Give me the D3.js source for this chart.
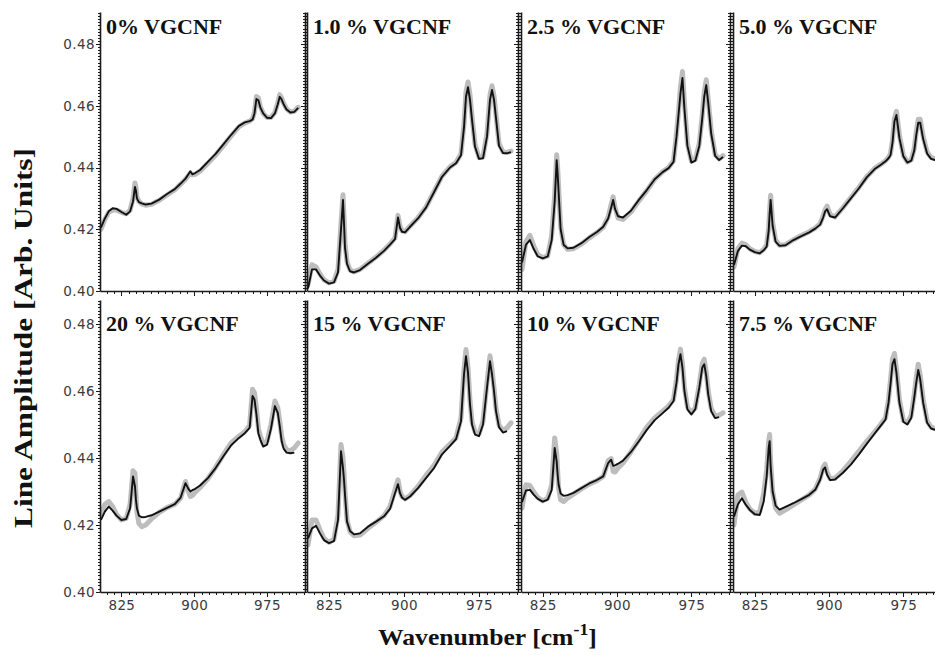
<!DOCTYPE html>
<html><head><meta charset="utf-8">
<script src="https://cdn.jsdelivr.net/npm/d3@7"></script>
<style>body{margin:0;background:#fff}</style>
</head><body>
<svg id="c" width="935" height="655"></svg>
<script>
// ---------- data ----------
const wavenumbers = [804,808,812,816,820,825,830,834,837,839,840,841,843,846,850,856,864,872,880,886,891,894,896,898,901,906,914,922,930,938,946,952,957,960,962,964,966,968,971,975,979,983,986,988,990,992,995,999,1003,1007];

const panelLabels = ["0% VGCNF","1.0 % VGCNF","2.5 % VGCNF","5.0 % VGCNF","20 % VGCNF","15 % VGCNF","10 % VGCNF","7.5 % VGCNF"];

const amp0 = [0.4205,0.4235,0.4258,0.4268,0.4266,0.4256,0.4247,0.4258,0.4290,0.4337,0.4325,0.4300,0.4288,0.4284,0.4280,0.4283,0.4296,0.4314,0.4330,0.4348,0.4364,0.4378,0.4388,0.4378,0.4382,0.4392,0.4418,0.4444,0.4475,0.4506,0.4535,0.4546,0.4550,0.4555,0.4575,0.4622,0.4618,0.4595,0.4575,0.4561,0.4560,0.4575,0.4605,0.4629,0.4620,0.4605,0.4588,0.4578,0.4580,0.4593];
const fit0 = [0.4200,0.4232,0.4255,0.4262,0.4262,0.4255,0.4250,0.4262,0.4300,0.4350,0.4335,0.4305,0.4290,0.4282,0.4278,0.4281,0.4294,0.4311,0.4328,0.4346,0.4362,0.4374,0.4382,0.4376,0.4378,0.4388,0.4414,0.4440,0.4471,0.4502,0.4532,0.4544,0.4550,0.4558,0.4580,0.4630,0.4625,0.4598,0.4575,0.4562,0.4562,0.4578,0.4610,0.4636,0.4625,0.4608,0.4590,0.4580,0.4582,0.4595];

const amp10 = [0.4008,0.4070,0.4070,0.4050,0.4034,0.4024,0.4028,0.4060,0.4200,0.4295,0.4220,0.4140,0.4088,0.4064,0.4060,0.4068,0.4088,0.4108,0.4130,0.4150,0.4168,0.4238,0.4205,0.4192,0.4190,0.4208,0.4235,0.4270,0.4320,0.4370,0.4400,0.4414,0.4440,0.4530,0.4630,0.4660,0.4620,0.4555,0.4467,0.4428,0.4430,0.4500,0.4620,0.4651,0.4620,0.4560,0.4470,0.4447,0.4446,0.4450];
const fit10 = [0.4020,0.4085,0.4078,0.4055,0.4036,0.4026,0.4032,0.4070,0.4220,0.4312,0.4240,0.4155,0.4095,0.4068,0.4062,0.4070,0.4090,0.4110,0.4132,0.4152,0.4172,0.4245,0.4210,0.4195,0.4192,0.4210,0.4237,0.4272,0.4322,0.4372,0.4402,0.4416,0.4445,0.4540,0.4645,0.4677,0.4635,0.4565,0.4475,0.4432,0.4435,0.4510,0.4635,0.4665,0.4632,0.4570,0.4478,0.4450,0.4449,0.4453];

const amp25 = [0.4092,0.4150,0.4165,0.4135,0.4112,0.4106,0.4112,0.4165,0.4290,0.4424,0.4380,0.4320,0.4200,0.4150,0.4138,0.4140,0.4155,0.4175,0.4192,0.4208,0.4235,0.4270,0.4295,0.4265,0.4242,0.4238,0.4260,0.4295,0.4327,0.4362,0.4385,0.4398,0.4418,0.4500,0.4570,0.4640,0.4690,0.4590,0.4470,0.4416,0.4422,0.4470,0.4560,0.4630,0.4667,0.4610,0.4510,0.4438,0.4424,0.4434];
const fit25 = [0.4070,0.4160,0.4180,0.4145,0.4118,0.4108,0.4114,0.4180,0.4310,0.4441,0.4400,0.4335,0.4210,0.4150,0.4135,0.4137,0.4152,0.4172,0.4190,0.4206,0.4240,0.4280,0.4305,0.4270,0.4236,0.4232,0.4256,0.4292,0.4325,0.4362,0.4386,0.4400,0.4422,0.4510,0.4580,0.4660,0.4711,0.4610,0.4478,0.4420,0.4426,0.4478,0.4570,0.4645,0.4684,0.4620,0.4520,0.4442,0.4428,0.4438];

const amp50 = [0.4084,0.4130,0.4147,0.4145,0.4134,0.4126,0.4122,0.4132,0.4144,0.4195,0.4250,0.4295,0.4212,0.4160,0.4146,0.4148,0.4165,0.4178,0.4190,0.4202,0.4215,0.4238,0.4258,0.4265,0.4242,0.4238,0.4268,0.4300,0.4332,0.4368,0.4395,0.4408,0.4420,0.4430,0.4440,0.4480,0.4550,0.4570,0.4495,0.4436,0.4416,0.4422,0.4455,0.4505,0.4545,0.4545,0.4492,0.4445,0.4428,0.4424];
const fit50 = [0.4078,0.4138,0.4155,0.4150,0.4137,0.4128,0.4124,0.4135,0.4150,0.4205,0.4262,0.4310,0.4222,0.4165,0.4148,0.4150,0.4166,0.4180,0.4192,0.4204,0.4218,0.4244,0.4264,0.4275,0.4248,0.4240,0.4270,0.4303,0.4335,0.4370,0.4397,0.4410,0.4422,0.4433,0.4445,0.4488,0.4560,0.4582,0.4505,0.4440,0.4418,0.4425,0.4462,0.4515,0.4556,0.4556,0.4500,0.4450,0.4432,0.4428];

const amp200 = [0.4215,0.4240,0.4255,0.4243,0.4228,0.4215,0.4218,0.4250,0.4345,0.4315,0.4275,0.4250,0.4228,0.4223,0.4224,0.4229,0.4240,0.4251,0.4262,0.4282,0.4325,0.4308,0.4300,0.4304,0.4308,0.4318,0.4340,0.4370,0.4405,0.4438,0.4460,0.4474,0.4490,0.4585,0.4575,0.4530,0.4474,0.4455,0.4434,0.4440,0.4488,0.4555,0.4535,0.4495,0.4450,0.4428,0.4416,0.4414,0.4416,null];
const fit200 = [0.4232,0.4262,0.4270,0.4255,0.4232,0.4215,0.4220,0.4262,0.4362,0.4355,0.4290,0.4240,0.4205,0.4195,0.4200,0.4218,0.4238,0.4252,0.4262,0.4280,0.4330,0.4300,0.4285,0.4288,0.4298,0.4312,0.4338,0.4372,0.4410,0.4445,0.4465,0.4478,0.4498,0.4605,0.4595,0.4548,0.4488,0.4466,0.4442,0.4450,0.4500,0.4570,0.4550,0.4510,0.4465,0.4440,0.4425,0.4422,0.4430,0.4445];

const amp150 = [0.4160,0.4190,0.4198,0.4175,0.4155,0.4146,0.4152,0.4215,0.4420,0.4370,0.4335,0.4290,0.4210,0.4182,0.4172,0.4175,0.4195,0.4210,0.4226,0.4248,0.4295,0.4322,0.4295,0.4282,0.4275,0.4285,0.4310,0.4340,0.4370,0.4411,0.4436,0.4456,0.4510,0.4650,0.4704,0.4655,0.4560,0.4500,0.4470,0.4465,0.4500,0.4610,0.4689,0.4650,0.4600,0.4540,0.4492,0.4476,0.4480,null];
const fit150 = [0.4140,0.4215,0.4215,0.4185,0.4160,0.4148,0.4158,0.4230,0.4440,0.4400,0.4355,0.4300,0.4215,0.4180,0.4168,0.4170,0.4190,0.4208,0.4228,0.4255,0.4305,0.4335,0.4300,0.4285,0.4278,0.4288,0.4315,0.4348,0.4378,0.4418,0.4442,0.4460,0.4520,0.4665,0.4724,0.4670,0.4570,0.4508,0.4478,0.4472,0.4510,0.4625,0.4705,0.4665,0.4610,0.4548,0.4498,0.4482,0.4490,0.4505];

const amp100 = [0.4268,0.4303,0.4305,0.4290,0.4278,0.4270,0.4276,0.4305,0.4430,0.4390,0.4350,0.4320,0.4294,0.4287,0.4289,0.4296,0.4310,0.4324,0.4335,0.4345,0.4385,0.4395,0.4377,0.4378,0.4383,0.4392,0.4418,0.4450,0.4484,0.4513,0.4534,0.4550,0.4570,0.4625,0.4680,0.4710,0.4670,0.4600,0.4545,0.4530,0.4546,0.4610,0.4670,0.4680,0.4645,0.4590,0.4540,0.4519,0.4522,null];
const fit100 = [0.4250,0.4320,0.4318,0.4298,0.4282,0.4272,0.4280,0.4320,0.4460,0.4415,0.4360,0.4310,0.4275,0.4270,0.4280,0.4292,0.4308,0.4322,0.4333,0.4345,0.4392,0.4398,0.4360,0.4358,0.4370,0.4385,0.4418,0.4455,0.4492,0.4520,0.4540,0.4555,0.4575,0.4635,0.4692,0.4725,0.4680,0.4610,0.4552,0.4535,0.4550,0.4620,0.4682,0.4695,0.4655,0.4600,0.4548,0.4525,0.4528,0.4535];

const amp75 = [0.4225,0.4262,0.4280,0.4260,0.4245,0.4232,0.4230,0.4270,0.4345,0.4430,0.4450,0.4375,0.4300,0.4258,0.4246,0.4254,0.4265,0.4277,0.4290,0.4305,0.4335,0.4365,0.4372,0.4350,0.4334,0.4336,0.4356,0.4380,0.4410,0.4442,0.4473,0.4496,0.4515,0.4565,0.4620,0.4680,0.4695,0.4655,0.4565,0.4508,0.4500,0.4520,0.4580,0.4625,0.4663,0.4635,0.4565,0.4505,0.4488,0.4484];
const fit75 = [0.4200,0.4290,0.4298,0.4268,0.4248,0.4235,0.4240,0.4295,0.4365,0.4450,0.4470,0.4390,0.4300,0.4250,0.4235,0.4245,0.4260,0.4275,0.4290,0.4307,0.4340,0.4372,0.4382,0.4358,0.4338,0.4340,0.4362,0.4390,0.4420,0.4450,0.4478,0.4500,0.4520,0.4575,0.4632,0.4695,0.4712,0.4665,0.4575,0.4512,0.4505,0.4528,0.4590,0.4640,0.4680,0.4648,0.4575,0.4510,0.4492,0.4488];

const yTicks = [0.40,0.42,0.44,0.46,0.48];
const xTicks = [825,900,975];

const measured = [amp0,amp10,amp25,amp50,amp200,amp150,amp100,amp75];
const fitted   = [fit0,fit10,fit25,fit50,fit200,fit150,fit100,fit75];

// ---------- layout ----------
const svg = d3.select("#c");
svg.append("rect").attr("width",935).attr("height",655).attr("fill","#fff");
const cols = [[100,305],[307,518],[521,730],[733,942]];
const rows = [
  {top:12, bottom:291, ref:44, titleY:33.5},
  {top:300, bottom:592, ref:324, titleY:330.5}
];
const xDomain = [803,1014];
const tickFont = "'DejaVu Sans', sans-serif";
const serif = "'Liberation Serif','Times New Roman',serif";

function styleAxis(g){
  g.attr("font-family", tickFont).attr("font-size", 13.5);
  g.selectAll("path.domain").attr("stroke","#1a1a1a").attr("stroke-width",1.6);
  g.selectAll(".tick line").attr("stroke","#1a1a1a").attr("stroke-width",1).attr("shape-rendering","crispEdges");
  g.selectAll(".tick text").attr("fill","#3a3a3a").attr("letter-spacing","0.4px");
}

panelLabels.forEach((label,i)=>{
  const r = rows[Math.floor(i/4)], c = cols[i%4];
  const x = d3.scaleLinear().domain(xDomain).range(c);
  const y0 = d3.scaleLinear().domain([0.40,0.48]).range([r.bottom, r.ref]);
  const yTop = y0.invert(r.top);
  const y = d3.scaleLinear().domain([0.40, yTop]).range([r.bottom, r.top]);

  const g = svg.append("g");
  const line = d3.line().defined(d=>d[1]!=null).x(d=>x(d[0])).y(d=>y(d[1]));

  g.append("path")
    .datum(wavenumbers.map((w,k)=>[w,fitted[i][k]]))
    .attr("d",line).attr("fill","none")
    .attr("stroke","#bdbdbd").attr("stroke-width",5)
    .attr("stroke-linejoin","round").attr("stroke-linecap","round");
  g.append("path")
    .datum(wavenumbers.map((w,k)=>[w,measured[i][k]]))
    .attr("d",line).attr("fill","none")
    .attr("stroke","#111").attr("stroke-width",1.9)
    .attr("stroke-linejoin","round");

  // y minor ticks
  const nMinor = Math.floor((yTop-0.40)/0.001 + 1e-6);
  const yMinor = d3.range(0, nMinor+1).map(k=>+(0.40+k*0.001).toFixed(3)).filter(v=>Math.round(v*1000)%20!==0);
  // left axis
  const la = g.append("g").attr("transform",`translate(${c[0]},0)`)
    .call(d3.axisLeft(y).tickValues(yMinor).tickSize(2).tickSizeOuter(0).tickFormat(""));
  styleAxis(la);
  const laM = g.append("g").attr("transform",`translate(${c[0]},0)`)
    .call(d3.axisLeft(y).tickValues(yTicks).tickSize(4).tickSizeOuter(0).tickPadding(1)
      .tickFormat(i%4===0 ? d3.format(".2f") : ""));
  styleAxis(laM);
  laM.select("path.domain").remove();
  // right axis (ticks inward)
  const ra = g.append("g").attr("transform",`translate(${c[1]},0)`)
    .call(d3.axisLeft(y).tickValues(yMinor).tickSize(2).tickSizeOuter(0).tickFormat(""));
  styleAxis(ra);
  const raM = g.append("g").attr("transform",`translate(${c[1]},0)`)
    .call(d3.axisLeft(y).tickValues(yTicks).tickSize(4).tickSizeOuter(0).tickFormat(""));
  styleAxis(raM); raM.select("path.domain").remove();

  // bottom axis
  const xMinor = d3.range(810, xDomain[1], 7.5).filter(t=>((t-825)%75+75)%75!==0);
  const ba = g.append("g").attr("transform",`translate(0,${r.bottom})`)
    .call(d3.axisBottom(x).tickValues(xMinor).tickSize(2.5).tickSizeOuter(0).tickFormat(""));
  styleAxis(ba);
  const baM = g.append("g").attr("transform",`translate(0,${r.bottom})`)
    .call(d3.axisBottom(x).tickValues(xTicks).tickSize(4.5).tickSizeOuter(0).tickPadding(4)
      .tickFormat(Math.floor(i/4)===1 ? d3.format("d") : ""));
  styleAxis(baM); baM.select("path.domain").remove();

  // panel title
  g.append("text")
    .attr("transform",`translate(${c[0]+6},${r.titleY}) scale(1.1,1)`)
    .attr("font-family",serif).attr("font-weight","bold").attr("font-size",20)
    .attr("fill","#111").text(label);
});

// axis titles
svg.append("text")
  .attr("transform","translate(32,338) rotate(-90)")
  .attr("text-anchor","middle")
  .attr("font-family",serif).attr("font-weight","bold").attr("font-size",25)
  .attr("fill","#111")
  .attr("textLength",380).attr("lengthAdjust","spacingAndGlyphs")
  .text("Line Amplitude [Arb. Units]");

const xg = svg.append("g");
const xt = xg.append("text")
  .attr("font-family",serif).attr("font-weight","bold").attr("font-size",23)
  .attr("fill","#111");
xt.append("tspan").text("Wavenumber [cm");
xt.append("tspan").attr("font-size",16).attr("dy",-10).text("-1");
xt.append("tspan").attr("dy",10).text("]");
const bb = xt.node().getBBox();
const sx = 219 / bb.width;
xg.attr("transform",`translate(378,645) scale(${sx},1)`);
</script>
</body></html>
